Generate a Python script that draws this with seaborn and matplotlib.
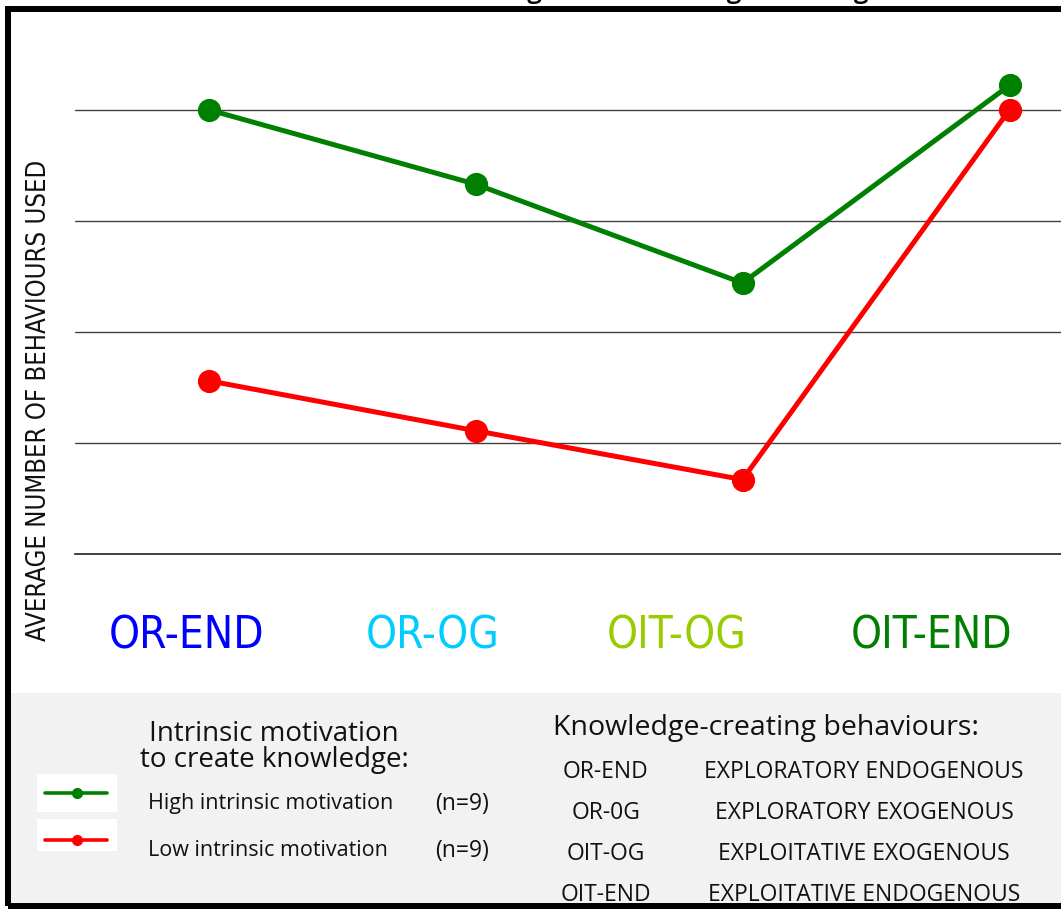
import matplotlib
matplotlib.use("Agg")
import matplotlib.pyplot as plt
from matplotlib import font_manager
from matplotlib.patches import Rectangle
from matplotlib.lines import Line2D
import pandas as pd
import seaborn as sns

# ---- data -------------------------------------------------------------
categories = ["OR-END", "OR-OG", "OIT-OG", "OIT-END"]
category_colors = ["#0000ff", "#00ccff", "#99cc00", "#008000"]
high_motivation = [4.00, 3.33, 2.44, 4.22]
low_motivation = [1.56, 1.11, 0.67, 4.00]
groups = ["High intrinsic motivation", "Low intrinsic motivation"]
group_colors = ["#008000", "#ff0000"]
group_sizes = ["(n=9)", "(n=9)"]
codes = ["OR-END", "OR-0G", "OIT-OG", "OIT-END"]
descriptions = ["EXPLORATORY ENDOGENOUS", "EXPLORATORY EXOGENOUS",
                "EXPLOITATIVE EXOGENOUS", "EXPLOITATIVE ENDOGENOUS"]
title = "Intrinsic motivation to create knowledge and knowledge-creating behaviours"
y_title = "AVERAGE NUMBER OF BEHAVIOURS USED"

# ---- style ------------------------------------------------------------
sns.set_theme(style="white")
faces = font_manager.fontManager.ttflist
names = {f.name for f in faces}
has_condensed = any(f.name == "DejaVu Sans" and "ondensed" in f.fname for f in faces)
if "Liberation Sans Narrow" in names:
    narrow = dict(family="Liberation Sans Narrow")
    narrow_scale = 1.0
elif has_condensed:
    narrow = dict(family="DejaVu Sans", fontstretch="condensed")
    narrow_scale = 0.97
else:
    narrow = dict(family="DejaVu Sans")
    narrow_scale = 0.85
body = "Open Sans" if "Open Sans" in names else "DejaVu Sans"
plt.rcParams["font.family"] = [body, "DejaVu Sans"]

W, H = 1061, 909
fig = plt.figure(figsize=(W / 100, H / 100), dpi=100)
fig.patch.set_facecolor("white")


def fx(px):
    return px / W


def fy(py):
    return 1 - py / H


# ---- background panels and frame ----------------------------------------
fig.patches.append(Rectangle((fx(10), fy(903)), 2.0, (903 - 693) / H,
                             transform=fig.transFigure, facecolor="#f2f2f2",
                             edgecolor="none", zorder=0))
fig.patches.append(Rectangle((fx(7.5), fy(906)), 2.0, (906 - 9) / H,
                             transform=fig.transFigure, fill=False,
                             edgecolor="black", linewidth=4.3, zorder=5))

# ---- main axes --------------------------------------------------------
ax = fig.add_axes([fx(75), fy(554), (1143 - 75) / W, (554 - 12) / H])
ax.patch.set_alpha(0)

df = pd.DataFrame({
    "behaviour": categories * 2,
    "value": high_motivation + low_motivation,
    "group": [groups[0]] * len(categories) + [groups[1]] * len(categories),
})
sns.pointplot(data=df, x="behaviour", y="value", hue="group",
              order=categories, hue_order=groups,
              palette=dict(zip(groups, group_colors)),
              markers="o", linestyles="-", markersize=14, linewidth=3.6,
              errorbar=None, legend=False, ax=ax)

ax.set_xlim(-0.5, len(categories) - 0.5)
ax.set_ylim(0, 4.88)
ax.set_xlabel("")
ax.set_ylabel("")
ax.set_yticks([1, 2, 3, 4])
ax.yaxis.grid(True, color="#404040", linewidth=1.0)
ax.set_axisbelow(True)
ax.tick_params(axis="y", length=0, labelleft=False)
ax.tick_params(axis="x", which="major", length=0, labelbottom=False)
ax.set_xticks([0.5, 1.5, 2.5], minor=True)
ax.tick_params(axis="x", which="minor", length=11.5, width=0.8,
               color="#404040", direction="out")
for side in ["top", "right", "left"]:
    ax.spines[side].set_visible(False)
ax.spines["bottom"].set_color("#202020")
ax.spines["bottom"].set_linewidth(1.2)

# category names under the axis
for label, color, xc in zip(categories, category_colors, [187, 433, 677, 932]):
    fig.text(fx(xc), fy(636), label, color=color, fontsize=32.5 * narrow_scale,
             fontweight="medium", ha="center", va="center", **narrow)

# vertical axis title
fig.text(fx(39), fy(400), y_title, rotation=90, fontsize=19.0 * narrow_scale,
         ha="center", va="center", color="#111111", **narrow)

# chart title, sitting at the very top edge
fig.text(fx(43), 1 + 2.0 / H, title, fontsize=19, fontweight="semibold",
         ha="left", va="baseline", color="black")

# ---- key: motivation groups --------------------------------------------
fig.text(fx(274), fy(747), "Intrinsic motivation\nto create knowledge:",
         fontsize=20, ha="center", va="center", linespacing=0.95,
         color="#111111")
for i, (name, color, n) in enumerate(zip(groups, group_colors, group_sizes)):
    yc = [793, 840][i]
    box_top, box_bot = [(774, 812), (819, 851)][i]
    fig.patches.append(Rectangle((fx(37), fy(box_bot)), (117 - 37) / W,
                                 (box_bot - box_top) / H,
                                 transform=fig.transFigure, facecolor="white",
                                 edgecolor="none", zorder=1))
    fig.add_artist(Line2D([fx(45), fx(107)], [fy(yc), fy(yc)],
                          transform=fig.transFigure, color=color,
                          linewidth=2.6, marker="none", zorder=2))
    fig.add_artist(Line2D([fx(77)], [fy(yc)], transform=fig.transFigure,
                          color=color, marker="o", markersize=7,
                          linestyle="none", zorder=3))
    fig.text(fx(148), fy(yc + 11), name, fontsize=15.5, ha="left",
             va="center", color="#111111")
    fig.text(fx(435), fy(yc + 11), n, fontsize=16.5, ha="left",
             va="center", color="#111111")

# ---- key: behaviour codes ------------------------------------------------
fig.text(fx(553), fy(728), "Knowledge-creating behaviours:", fontsize=20.5,
         ha="left", va="center", color="#111111")
for code, desc, yc in zip(codes, descriptions, [772, 813, 854, 895]):
    fig.text(fx(606), fy(yc), code, fontsize=16.5, ha="center",
             va="center", color="#111111")
    fig.text(fx(864), fy(yc), desc, fontsize=16.5, ha="center",
             va="center", color="#111111")

fig.savefig("out.png", dpi=100)
